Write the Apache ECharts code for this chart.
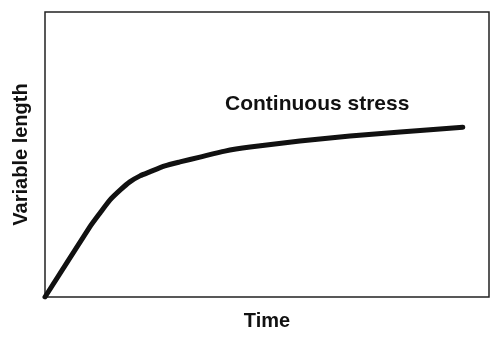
<!DOCTYPE html>
<html>
<head>
<meta charset="utf-8">
<script src="https://cdn.jsdelivr.net/npm/echarts@6/dist/echarts.min.js"></script>
<style>html,body{margin:0;padding:0;background:#fff}#c{width:500px;height:344px}</style>
</head>
<body>
<div id="c"></div>
<script>
const timeValues = [0, 10.1, 12.4, 14.6, 16.9, 19.1, 21.4, 23.6, 27.0, 30.4, 34.9, 40.5, 46.2, 57.4, 68.7, 80.0, 94.1];
const lengthValues = [0, 24.6, 29.5, 34.0, 37.5, 40.4, 42.5, 43.9, 46.0, 47.4, 49.1, 51.2, 52.6, 54.7, 56.5, 57.9, 59.6];
const xAxisTitle = 'Time';
const yAxisTitle = 'Variable length';
const annotation = 'Continuous stress';

const chart = echarts.init(document.getElementById('c'), null, {renderer: 'canvas'});
const font = '"Liberation Sans", Arial, sans-serif';
chart.setOption({
  animation: false,
  backgroundColor: '#fff',
  grid: {left: 45, top: 12, right: 11, bottom: 47, show: true, borderColor: '#222', borderWidth: 1.5, backgroundColor: 'transparent'},
  xAxis: {
    type: 'value', min: 0, max: 100,
    name: xAxisTitle, nameLocation: 'middle', nameGap: 14,
    nameTextStyle: {fontFamily: font, fontWeight: 'bold', fontSize: 20, color: '#111', verticalAlign: 'top'},
    axisLine: {show: false}, axisTick: {show: false}, axisLabel: {show: false}, splitLine: {show: false}
  },
  yAxis: {
    type: 'value', min: 0, max: 100,
    name: yAxisTitle, nameLocation: 'middle', nameGap: 14,
    nameTextStyle: {fontFamily: font, fontWeight: 'bold', fontSize: 20, color: '#111'},
    axisLine: {show: false}, axisTick: {show: false}, axisLabel: {show: false}, splitLine: {show: false}
  },
  graphic: [{
    type: 'text', left: 225, top: 94,
    style: {text: annotation, font: 'bold 21px "Liberation Sans", Arial, sans-serif', fill: '#111'}
  }],
  series: [{
    type: 'line',
    data: timeValues.map((t, i) => [t, lengthValues[i]]),
    smooth: 0.2,
    showSymbol: false,
    lineStyle: {color: '#111', width: 5, cap: 'round', join: 'round'}
  }]
});
</script>
</body>
</html>
